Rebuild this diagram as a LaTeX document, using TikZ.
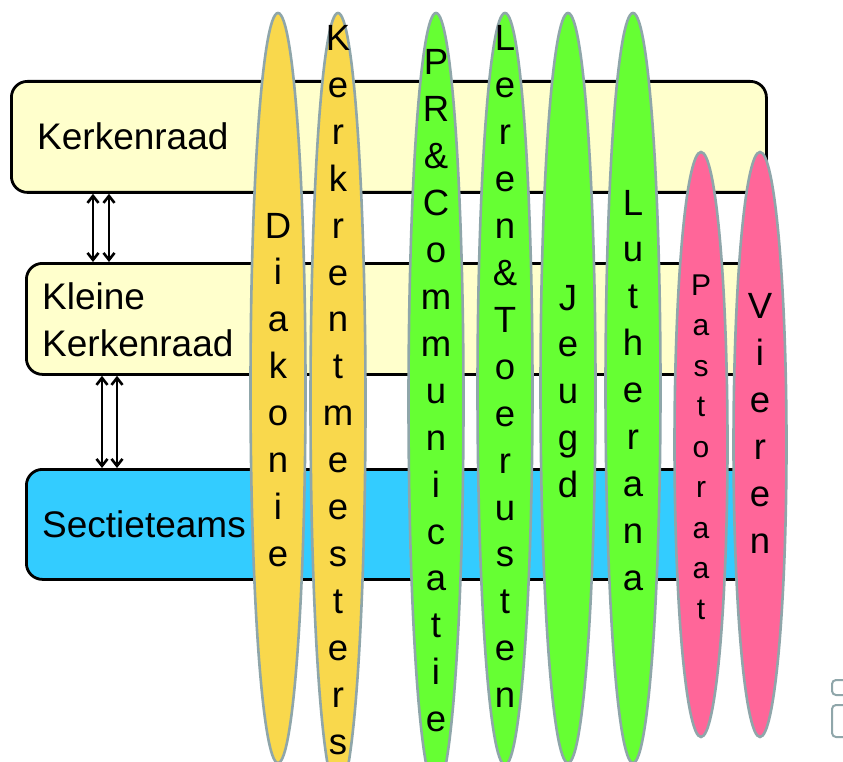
\documentclass[tikz,border=0pt]{standalone}
\usepackage{fontspec}
\setmainfont{Liberation Sans}
\usetikzlibrary{shapes.geometric,arrows.meta}
\definecolor{boxyel}{HTML}{FFFFCC}
\definecolor{boxblue}{HTML}{33CCFF}
\definecolor{ellyel}{HTML}{F9D84C}
\definecolor{ellgreen}{HTML}{66FF33}
\definecolor{ellpink}{HTML}{FF6699}
\definecolor{ellline}{HTML}{8FA6AA}
\begin{document}
\begin{tikzpicture}[x=1pt,y=-1pt,
  box/.style={draw=black, line width=2.8pt, rounded corners=16pt, anchor=north west, inner sep=0pt},
  lbl/.style={font=\fontsize{37}{44}\selectfont, anchor=base west, inner sep=0pt},
  ell/.style={ellipse, draw=ellline, line width=2.6pt, inner sep=0pt},
  let/.style={font=\fontsize{36.5}{44}\selectfont, anchor=base, inner sep=0pt},
  slet/.style={font=\fontsize{30}{36}\selectfont, anchor=base, inner sep=0pt},
  arr/.style={draw=black, line width=2.6pt, arrows={Straight Barb[length=7pt,width=11pt]-Straight Barb[length=7pt,width=11pt]}},
  icon/.style={draw=ellline, line width=2pt, rounded corners=4pt}
]
\useasboundingbox (0,0) rectangle (843,762);
\clip (0,0) rectangle (843,762);

% boxes
\node[box, fill=boxyel, minimum width=755pt, minimum height=111pt] (kr) at (10,80) {};
\node[box, fill=boxyel, minimum width=740pt, minimum height=111pt] (kk) at (25,262) {};
\node[box, fill=boxblue, minimum width=740pt, minimum height=110pt] (st) at (25,468) {};

\node[lbl] (krt) at (37,150) {Kerkenraad};
\node[lbl] (kkt1) at (42,309) {Kleine};
\node[lbl] (kkt2) at (42,356) {Kerkenraad};
\node[lbl] (stt) at (42,537) {Sectieteams};

% arrows
\coordinate (a1) at ([xshift=83pt]kr.south west);
\coordinate (a2) at ([xshift=99pt]kr.south west);
\coordinate (b1) at ([xshift=77pt]kk.south west);
\coordinate (b2) at ([xshift=92pt]kk.south west);
\draw[arr] (a1) -- (a1 |- kk.north);
\draw[arr] (a2) -- (a2 |- kk.north);
\draw[arr] (b1) -- (b1 |- st.north);
\draw[arr] (b2) -- (b2 |- st.north);

% ellipses
\node[ell, fill=ellyel, minimum width=55pt, minimum height=750pt] (diak) at (278,388) {};
\node[ell, fill=ellyel, minimum width=55pt, minimum height=780pt] (kerk) at (338,403) {};
\node[ell, fill=ellgreen, minimum width=55pt, minimum height=777pt] (pr) at (436,401.5) {};
\node[ell, fill=ellgreen, minimum width=55pt, minimum height=752pt] (leren) at (505,389) {};
\node[ell, fill=ellgreen, minimum width=55pt, minimum height=750pt] (jeugd) at (568,388) {};
\node[ell, fill=ellgreen, minimum width=55pt, minimum height=750pt] (luth) at (633,388) {};
\node[ell, fill=ellpink, minimum width=53pt, minimum height=585pt] (past) at (701,444.5) {};
\node[ell, fill=ellpink, minimum width=53pt, minimum height=585pt] (vier) at (760,444.5) {};

% letters
\foreach \c [count=\i from 0] in {D,i,a,k,o,n,i,e}
  \node[let] (diak-\i) at (278, 238+46.9*\i) {\c};
\foreach \c [count=\i from 0] in {K,e,r,k,r,e,n,t,m,e,e,s,t,e,r,s}
  \node[let] (kerk-\i) at (338, 50.5+46.9*\i) {\c};
\foreach \c [count=\i from 0] in {P,R,\&,C,o,m,m,u,n,i,c,a,t,i,e}
  \node[let] (pr-\i) at (436, 75+46.9*\i) {\c};
\foreach \c [count=\i from 0] in {L,e,r,e,n,\&,T,o,e,r,u,s,t,e,n}
  \node[let] (leren-\i) at (505, 51+46.9*\i) {\c};
\foreach \c [count=\i from 0] in {J,e,u,g,d}
  \node[let] (jeugd-\i) at (568, 310+46.9*\i) {\c};
\foreach \c [count=\i from 0] in {L,u,t,h,e,r,a,n,a}
  \node[let] (luth-\i) at (633, 215+46.9*\i) {\c};
\foreach \c [count=\i from 0] in {P,a,s,t,o,r,a,a,t}
  \node[slet] (past-\i) at (701, 295+40.5*\i) {\c};
\foreach \c [count=\i from 0] in {V,i,e,r,e,n}
  \node[let] (vier-\i) at (760, 318+47*\i) {\c};

% corner icon
\draw[icon] (832,680) rectangle (862,695);
\draw[icon] (832,705) rectangle (862,737);
\end{tikzpicture}
\end{document}
